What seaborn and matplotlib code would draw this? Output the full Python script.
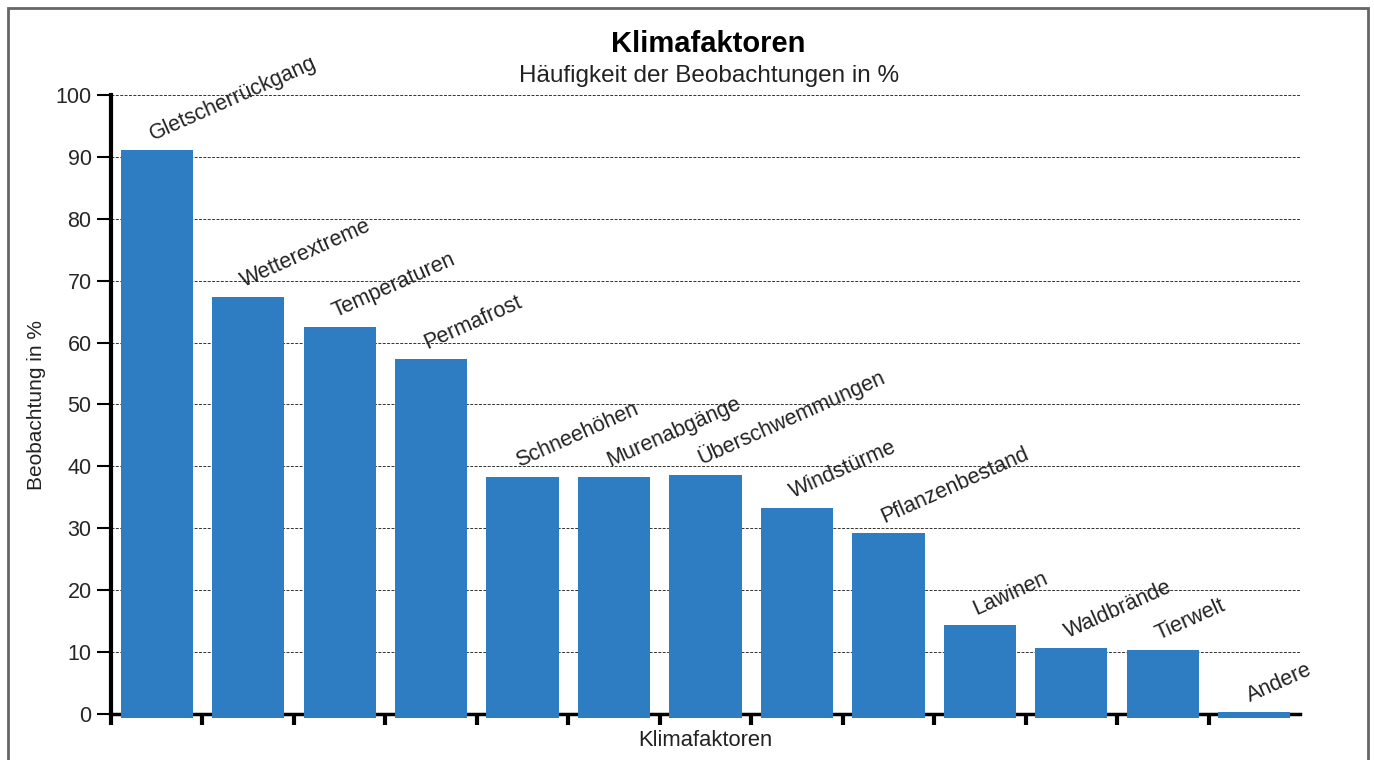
import matplotlib
matplotlib.use("Agg")
import matplotlib.pyplot as plt
import matplotlib.patches as mpatches
import seaborn as sns
import pandas as pd
import numpy as np

categories = ["Gletscherrückgang", "Wetterextreme", "Temperaturen", "Permafrost",
              "Schneehöhen", "Murenabgänge", "Überschwemmungen", "Windstürme",
              "Pflanzenbestand", "Lawinen", "Waldbrände", "Tierwelt", "Andere"]
values = [91.1, 67.4, 62.5, 57.4, 38.3, 38.3, 38.6, 33.3, 29.2, 14.4, 10.7, 10.3, 0.3]
yticks = [0, 10, 20, 30, 40, 50, 60, 70, 80, 90, 100]

title = "Klimafaktoren"
subtitle = "Häufigkeit der Beobachtungen in %"
xlabel = "Klimafaktoren"
ylabel = "Beobachtung in %"

sns.set_theme(style="white")
plt.rcParams['font.family'] = ['Liberation Sans', 'DejaVu Sans']

df = pd.DataFrame({"cat": categories, "val": values})

fig = plt.figure(figsize=(13.74, 7.6), dpi=100)
ax = fig.add_axes([111/1374, 1-718/760, (1300-111)/1374, (718-95)/760])

sns.barplot(data=df, x="cat", y="val", color="#2e7dc2", saturation=1,
            width=0.79, ax=ax, zorder=3, linewidth=0, edgecolor="none")
for p in ax.patches:
    p.set_y(-0.65)
    p.set_height(p.get_height() + 0.65)

ax.set_xlim(-0.5, len(categories) - 0.5)
ax.set_ylim(-0.65, 100)

ax.set_yticks(yticks)
ax.set_yticklabels([str(t) for t in yticks], fontsize=15.5)
ax.yaxis.grid(True, linestyle=(0, (3, 1.5)), color="#333333", linewidth=0.7, zorder=0)
ax.xaxis.grid(False)

ax.set_xticks(np.arange(len(categories)) - 0.5)
ax.set_xticklabels([""] * len(categories))
ax.tick_params(axis="x", direction="out", length=8, width=3, color="black", bottom=True)
ax.tick_params(axis="y", direction="out", length=10, width=1.5, color="black", left=True, pad=4)

for s in ["top", "right"]:
    ax.spines[s].set_visible(False)
ax.spines["left"].set_linewidth(3)
ax.spines["left"].set_color("black")
ax.spines["bottom"].set_position(("data", 0))
ax.spines["bottom"].set_linewidth(2.5)
ax.spines["bottom"].set_color("black")
ax.spines["left"].set_bounds(0, 100)

for i, (c, v) in enumerate(zip(categories, values)):
    ax.text(i - 0.02, v + 0.9, c, rotation=24, rotation_mode="anchor",
            ha="left", va="bottom", fontsize=15.5, color="#222222", zorder=5)

ax.set_xlabel("")
ax.set_ylabel("")
fig.text(708/1374, 1-44/760, title, ha="center", va="center", fontsize=21,
         fontweight="bold", color="black")
fig.text(709/1374, 1-76/760, subtitle, ha="center", va="center", fontsize=17.5,
         color="#222222")
fig.text(705/1374, 1-741/760, xlabel, ha="center", va="center", fontsize=15.8,
         color="#222222")
fig.text(37/1374, 1-405/760, ylabel, ha="center", va="center", rotation=90,
         fontsize=15, color="#222222")

border = mpatches.Rectangle((8/1374, -0.01), (1368-8)/1374, 1 - 8/760 + 0.01,
                            transform=fig.transFigure, fill=False,
                            edgecolor="#666666", linewidth=2)
fig.patches.append(border)

fig.savefig("out.png", dpi=100)
